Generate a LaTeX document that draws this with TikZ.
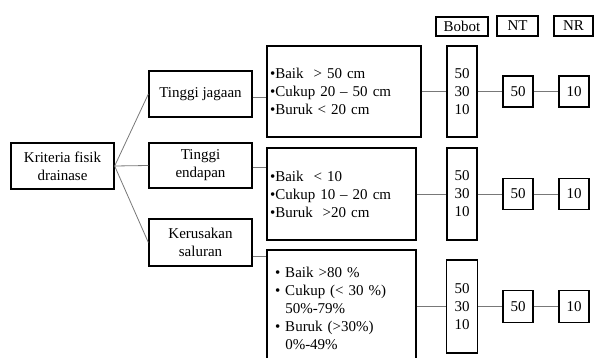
\documentclass[tikz,border=0pt]{standalone}
\usepackage{fontspec}
\setmainfont{Liberation Serif}
\begin{document}
\begin{tikzpicture}[x=1pt,y=-1pt,
  box/.style={draw=black,line width=1.3pt,inner sep=0pt,align=center,
    font=\fontsize{15}{18}\selectfont},
  listbox/.style={draw=black,line width=1.3pt,inner ysep=0pt,align=left,
    font=\fontsize{15}{18}\selectfont},
  conn/.style={draw={rgb,255:red,120;green,120;blue,120},line width=0.8pt}]
\useasboundingbox (0,0) rectangle (594,358);
% left tree
\node[box,minimum width=103pt,minimum height=46pt] (kf) at (62.5,166) {Kriteria fisik\\drainase};
\node[box,minimum width=103pt,minimum height=46pt] (tj) at (200.5,94) {Tinggi jagaan};
\node[box,minimum width=103pt,minimum height=45pt] (te) at (200.5,165.5) {Tinggi\\endapan};
\node[box,minimum width=103pt,minimum height=47pt] (ks) at (200.5,242.5) {Kerusakan\\saluran};
% criteria boxes
\node[listbox,inner xsep=3pt,text width=148pt,minimum height=91pt] (b1) at (344,91.5)
  {•Baik\ \ > 50 cm\\•Cukup 20 – 50 cm\\•Buruk < 20 cm};
\node[listbox,inner xsep=3pt,text width=143pt,minimum height=92pt] (b2) at (341.5,194)
  {•Baik\ \ < 10\\•Cukup 10 – 20 cm\\•Buruk\ \ >20 cm};
\node[listbox,inner xsep=8pt,text width=133pt,minimum height=116pt] (b3) at (341.5,308)
  {• Baik >80 \%\\• Cukup (< 30 \%)\\\phantom{• }50\%-79\%\\• Buruk (>30\%)\\\phantom{• }0\%-49\%};
% headers
\node[box,minimum width=52pt,minimum height=19pt] (hb) at (462,26.5) {Bobot};
\node[box,minimum width=41pt,minimum height=20pt] (hnt) at (517.5,26) {NT};
\node[box,minimum width=39pt,minimum height=20pt] (hnr) at (573.5,26) {NR};
% bobot columns
\node[box,minimum width=30pt,minimum height=91pt] (w1) at (462,91.5) {50\\30\\10};
\node[box,minimum width=30pt,minimum height=92pt] (w2) at (462,194) {50\\30\\10};
\node[box,minimum width=31pt,minimum height=93pt] (w3) at (462,306.5) {50\\30\\10};
% NT and NR
\node[box,minimum width=30pt,minimum height=31pt] (nt1) at (518,91.5) {50};
\node[box,minimum width=30pt,minimum height=31pt] (nr1) at (574,91.5) {10};
\node[box,minimum width=30pt,minimum height=31pt] (nt2) at (518,194) {50};
\node[box,minimum width=30pt,minimum height=31pt] (nr2) at (574,194) {10};
\node[box,minimum width=30pt,minimum height=32pt] (nt3) at (518,306.5) {50};
\node[box,minimum width=30pt,minimum height=32pt] (nr3) at (574,306.5) {10};
% connectors
\coordinate (fan) at (kf.east);
\draw[conn] (fan) -- (tj.west);
\draw[conn] (fan) -- (te.west);
\draw[conn] (fan) -- (ks.west);
\draw[conn] ([yshift=-3pt]tj.east) -- ([yshift=-3pt]tj.east -| b1.west);
\draw[conn] ([yshift=-2pt]te.east) -- ([yshift=-2pt]te.east -| b2.west);
\draw[conn] ([yshift=-13.5pt]ks.east) -- ([yshift=-13.5pt]ks.east -| b3.west);
\draw[conn] (b1.east) -- (w1.west);
\draw[conn] (b2.east) -- (w2.west);
\draw[conn] (w3.west -| b3.east) -- (w3.west);
\draw[conn] (w1.east) -- (nt1.west);
\draw[conn] (w2.east) -- (nt2.west);
\draw[conn] (w3.east) -- (nt3.west);
\draw[conn] (nt1.east) -- (nr1.west);
\draw[conn] (nt2.east) -- (nr2.west);
\draw[conn] (nt3.east) -- (nr3.west);
\end{tikzpicture}
\end{document}
